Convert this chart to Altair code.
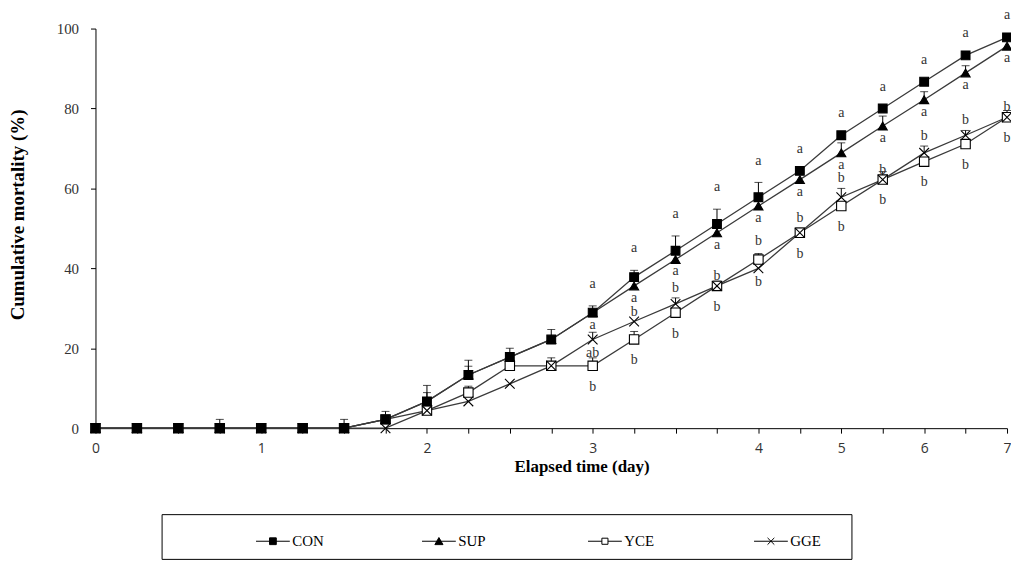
import altair as alt
import pandas as pd

# ---------------- data ----------------
TIMES = [0, 0.25, 0.5, 0.75, 1, 1.25, 1.5, 1.75, 2, 2.25, 2.5, 2.75, 3, 3.25,
         3.5, 3.75, 4, 4.5, 5, 5.5, 6, 6.5, 7]
SERIES = ["CON", "SUP", "YCE", "GGE"]

CON = [0, 0, 0, 0, 0, 0, 0, 2.2, 6.7, 13.3, 17.8, 22.2, 28.9, 37.8, 44.4, 51.1,
       57.8, 64.4, 73.3, 80.0, 86.7, 93.3, 97.8]
SUP = [0, 0, 0, 0, 0, 0, 0, 2.2, 6.7, 13.3, 17.8, 22.2, 28.9, 35.6, 42.2, 48.9,
       55.6, 62.2, 68.9, 75.6, 82.2, 88.9, 95.6]
YCE = [0, 0, 0, 0, 0, 0, 0, 2.2, 4.4, 8.9, 15.6, 15.6, 15.6, 22.2, 28.9, 35.6,
       42.2, 48.9, 55.6, 62.2, 66.7, 71.1, 77.8]
GGE = [0, 0, 0, 0, 0, 0, 0, 0, 4.4, 6.7, 11.1, 15.6, 22.2, 26.7, 31.1, 35.6,
       40.0, 48.9, 57.8, 62.2, 68.9, 73.3, 77.8]

CON_SD = [0, 0, 0, 2.2, 0, 0, 2.2, 2.0, 4.0, 3.7, 2.2, 2.5, 1.7, 1.7, 3.7, 3.7,
          3.7, 0, 0, 0, 0, 0, 0]
SUP_SD = [0, 0, 0, 0, 0, 0, 0, 0, 2.2, 2.2, 0, 0, 0, 0, 0, 0,
          0, 0, 2.5, 2.5, 2.0, 1.8, 0]
YCE_SD = [0, 0, 0, 0, 0, 0, 0, 0, 0, 1.6, 0, 2.0, 2.0, 2.0, 0, 1.2,
          1.5, 0, 0, 2.0, 0, 0, 1.7]
GGE_SD = [0, 0, 0, 0, 0, 0, 0, 0, 0, 0, 0, 0, 1.8, 0, 1.5, 0,
          0, 1.2, 2.2, 0, 1.7, 1.2, 0]

# significance letters from day 3 onwards
LETTER_TIMES = [3, 3.25, 3.5, 3.75, 4, 4.5, 5, 5.5, 6, 6.5, 7]
CON_LET = ["a"] * 11
SUP_LET = ["a"] * 11
YCE_LET = ["b"] * 11
GGE_LET = ["ab"] + ["b"] * 10
# which side of the marker each letter sits on
CON_SIDE = ["above"] * 11
SUP_SIDE = ["below"] * 11
YCE_SIDE = ["below", "below", "below", "below", "above", "below", "below",
            "below", "below", "below", "below"]
GGE_SIDE = ["below", "above", "above", "above", "below", "above", "above",
            "above", "above", "above", "above"]

# ---------------- tables ----------------
vals = {"CON": CON, "SUP": SUP, "YCE": YCE, "GGE": GGE}
sds = {"CON": CON_SD, "SUP": SUP_SD, "YCE": YCE_SD, "GGE": GGE_SD}
lets = {"CON": CON_LET, "SUP": SUP_LET, "YCE": YCE_LET, "GGE": GGE_LET}
sides = {"CON": CON_SIDE, "SUP": SUP_SIDE, "YCE": YCE_SIDE, "GGE": GGE_SIDE}

# drawing order of markers (last on top)
POINT_ORDER = ["YCE", "GGE", "SUP", "CON"]

rows = []
for s in POINT_ORDER:
    for t, v, e in zip(TIMES, vals[s], sds[s]):
        rows.append({"t": t, "series": s, "value": v, "sd": e, "top": v + e})
df = pd.DataFrame(rows)

lrows = []
for s in SERIES:
    for t, l, side in zip(LETTER_TIMES, lets[s], sides[s]):
        i = TIMES.index(t)
        lrows.append({"t": t, "series": s, "value": vals[s][i],
                      "top": vals[s][i] + sds[s][i], "letter": l, "side": side})
ldf = pd.DataFrame(lrows)

# ---------------- styles ----------------
SERIF = "Liberation Serif"
SANS = "Open Sans"
LINE_COL = "#3a3a3a"
PLOT_W, PLOT_H = 917, 402

SHAPES = ["square", "triangle-up", "square", "M-1,-1L1,1M-1,1L1,-1"]
FILLS = ["black", "black", "white", "black"]
LEG_PATHS = [
    "M-1,0H1M-0.2,-0.2H0.2V0.2H-0.2Z",
    "M-1,0H1M0,-0.22L0.24,0.2H-0.24Z",
    "M-1,0H-0.18M0.18,0H1M-0.18,-0.18H0.18V0.18H-0.18Z",
    "M-1,0H1M-0.2,-0.2L0.2,0.2M-0.2,0.2L0.2,-0.2",
]

x_enc = alt.X(
    "t:O",
    scale=alt.Scale(type="point", domain=TIMES, padding=0),
    axis=alt.Axis(
        title="Elapsed time (day)",
        labelExpr="datum.value % 1 === 0 ? datum.label : ''",
        labelAngle=0, labelFont=SANS, labelFontSize=14, labelColor="#333",
        labelPadding=8, tickSize=5, tickColor="black", domainColor="black",
        titleFont=SERIF, titleFontSize=17, titleFontWeight="bold",
        titleColor="black", titleX=489, titleY=39, titleBaseline="middle",
        titleAlign="center",
    ),
)
y_enc = alt.Y(
    "value:Q",
    scale=alt.Scale(domain=[0, 100], nice=False, zero=True),
    axis=alt.Axis(
        title="Cumulative mortality (%)", values=[0, 20, 40, 60, 80, 100],
        grid=False, labelFont=SERIF, labelFontSize=15, labelColor="#333",
        labelPadding=12, tickSize=5, tickColor="black", domainColor="black",
        titleFont=SERIF, titleFontSize=19, titleFontWeight="bold",
        titleColor="black", titleX=-78, titleY=187, titleAngle=-90,
        titleBaseline="middle", titleAlign="center",
    ),
)

base = alt.Chart(df)

lines = base.mark_line(color=LINE_COL, strokeWidth=1.3).encode(
    x=x_enc, y=y_enc, detail="series:N"
)

err = base.transform_filter("datum.sd > 0")
err_rule = err.mark_rule(color="black", strokeWidth=1).encode(
    x="t:O", y="value:Q", y2="top:Q"
)
err_cap = err.mark_tick(color="black", thickness=1, size=8).encode(
    x="t:O", y="top:Q"
)

points = base.mark_point(filled=True, stroke="black", strokeWidth=1.1,
                         opacity=1).encode(
    x="t:O", y="value:Q",
    shape=alt.Shape("series:N", scale=alt.Scale(domain=SERIES, range=SHAPES),
                    legend=None),
    fill=alt.Fill("series:N", scale=alt.Scale(domain=SERIES, range=FILLS),
                  legend=None),
    size=alt.Size("series:N",
                  scale=alt.Scale(domain=SERIES, range=[78, 95, 45, 75]),
                  legend=None),
)

# (series, side) -> (anchor field, vertical pixel offset)
DY = {("CON", "above"): ("top", -22), ("SUP", "below"): ("value", 12),
      ("YCE", "below"): ("value", 21), ("YCE", "above"): ("top", -13),
      ("GGE", "above"): ("top", -10), ("GGE", "below"): ("value", 14)}
text_layers = []
for (s, side), (fld, dy) in DY.items():
    text_layers.append(
        alt.Chart(ldf)
        .transform_filter(f"datum.series === '{s}' && datum.side === '{side}'")
        .mark_text(font=SERIF, fontSize=14, color="#333", dy=dy,
                   baseline="middle", align="center")
        .encode(x="t:O", y=f"{fld}:Q", text="letter:N")
    )

leg = alt.Legend(
    orient="none", legendX=161, legendY=498, direction="horizontal",
    title=None, symbolSize=1156, symbolStrokeWidth=1,
    symbolStrokeColor="black", labelFont=SERIF, labelFontSize=15,
    labelColor="black", columnPadding=96, gridAlign="all", labelOffset=2,
    symbolOpacity=1,
)
legend_layer = base.transform_filter("false").mark_point(
    filled=False, strokeWidth=1
).encode(
    x="t:O", y="value:Q",
    shape=alt.Shape("series:N", scale=alt.Scale(domain=SERIES, range=LEG_PATHS),
                    legend=leg),
    fill=alt.Fill("series:N", scale=alt.Scale(domain=SERIES, range=FILLS),
                  legend=leg),
    stroke=alt.Stroke("series:N",
                      scale=alt.Scale(domain=SERIES, range=["black"] * 4),
                      legend=leg),
)

box = alt.Chart(alt.Data(values=[{}])).mark_rect(
    fill="white", fillOpacity=0, stroke="black", strokeWidth=1
).encode(
    x=alt.value(67), x2=alt.value(761), y=alt.value(489), y2=alt.value(534)
)

chart = (
    alt.layer(lines, err_rule, err_cap, points, *text_layers, legend_layer, box)
    .resolve_scale(shape="independent", fill="independent",
                   stroke="independent")
    .properties(
        width=PLOT_W, height=PLOT_H,
        padding={"left": 88, "top": 19, "right": 4, "bottom": 142},
        autosize=alt.AutoSizeParams(type="none"),
        background="white",
    )
    .configure_view(stroke=None)
    .configure_axis(grid=False)
)

chart.save("out.html", embed_options={"renderer": "svg", "actions": False})
